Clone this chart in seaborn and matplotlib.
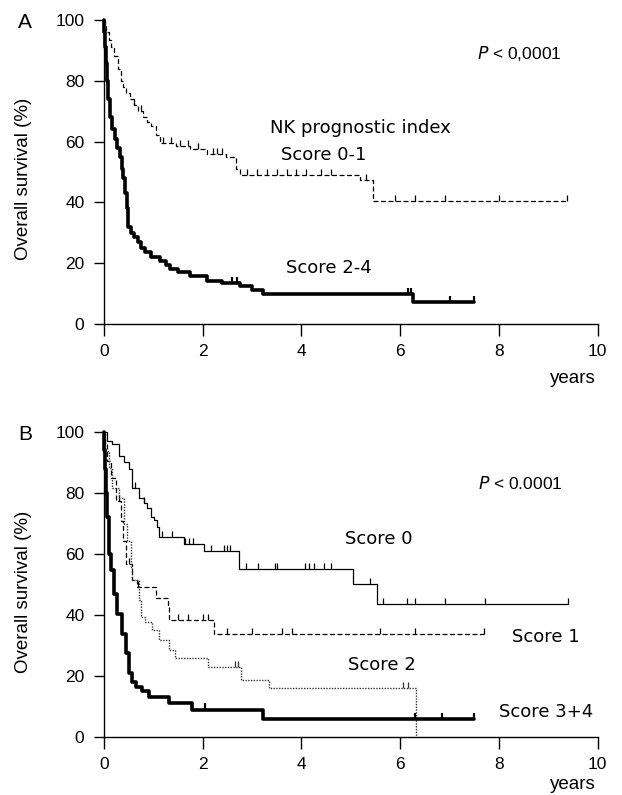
import numpy as np
import pandas as pd
import matplotlib
matplotlib.use("Agg")
import matplotlib.pyplot as plt
import seaborn as sns

# ---------------- data ----------------
years_ticks = [0, 2, 4, 6, 8, 10]
surv_ticks = [0, 20, 40, 60, 80, 100]

# Panel A
a_low_t = [0, 0.02, 0.05, 0.1, 0.15, 0.2, 0.28, 0.35, 0.39, 0.45, 0.52, 0.6, 0.7, 0.79,
           0.88, 0.96, 1.05, 1.13, 1.47, 1.74, 2.08, 2.48, 2.68, 2.75, 5.18, 5.45, 9.37]
a_low_s = [100, 98, 96, 93.5, 91, 88, 84, 80, 78, 76, 74, 72, 70, 68,
           66.5, 65, 62, 59.6, 58.5, 57.4, 56, 55, 51, 49, 47.5, 40.5, 40.5]
a_low_cens = [0.6, 0.75, 1.2, 1.35, 1.55, 1.7, 1.9, 2.2, 2.3, 2.4, 2.9, 3.1, 3.3,
              3.5, 3.7, 3.9, 4.1, 4.4, 4.6, 5.3, 5.9, 6.3, 6.9, 8.0, 9.37]

a_high_t = [0, 0.01, 0.02, 0.04, 0.06, 0.09, 0.12, 0.17, 0.22, 0.27, 0.32, 0.36, 0.39,
            0.43, 0.46, 0.49, 0.55, 0.62, 0.69, 0.76, 0.83, 0.95, 1.13, 1.25, 1.34,
            1.5, 1.74, 2.08, 2.4, 2.75, 3.0, 3.22, 6.26, 7.5]
a_high_s = [100, 96, 91, 86, 80, 74, 68, 64, 61, 58, 55, 51, 48,
            43, 38, 32, 30, 28.5, 27, 25, 23.6, 22, 20.8, 19.5, 18,
            17, 15.8, 14.2, 13.5, 12.6, 11.2, 9.8, 7.3, 7.3]
a_high_cens = [2.6, 2.7, 6.15, 6.22, 7.0, 7.5]

# Panel B
b0_t = [0, 0.07, 0.17, 0.3, 0.41, 0.51, 0.57, 0.71, 0.81, 0.88, 0.95, 1.01, 1.08,
        1.12, 1.62, 2.03, 2.74, 5.04, 5.54, 9.39]
b0_s = [100, 97, 96, 92, 90, 87.7, 81.7, 78.5, 76.8, 75.2, 72, 71, 68.7,
        65.4, 63.3, 61, 55, 50, 43.7, 43.7]
b0_cens = [0.64, 0.81, 1.18, 1.38, 1.65, 1.72, 1.8, 2.16, 2.43, 2.5, 2.56, 2.88, 3.12,
           3.46, 3.5, 4.07, 4.15, 4.25, 4.45, 4.6, 5.38, 5.66, 6.13, 6.3, 6.9, 7.72, 9.39]

b1_t = [0, 0.03, 0.07, 0.14, 0.24, 0.34, 0.38, 0.44, 0.57, 0.68, 1.05, 1.29, 1.32, 2.23, 7.7]
b1_s = [100, 96, 90.4, 85, 77.4, 70.9, 64.3, 56.7, 51.3, 49.1, 45.5, 43, 38.3, 33.7, 33.7]
b1_cens = [0.3, 0.5, 0.7, 1.5, 1.7, 2.0, 2.1, 2.5, 3.0, 3.6, 3.8, 5.6, 6.3, 7.7]

b2_t = [0, 0.03, 0.1, 0.17, 0.3, 0.41, 0.47, 0.54, 0.57, 0.71, 0.75, 0.84, 0.98,
        1.12, 1.32, 1.45, 2.1, 2.77, 3.34, 6.32]
b2_s = [100, 93.7, 88.3, 81.7, 78.5, 69.8, 64.3, 55.7, 51.3, 44.8, 39.3, 37.7, 35,
        31.7, 28.5, 25.8, 23, 18.7, 16, 0]
b2_cens = [2.65, 2.72, 6.05, 6.15]

b3_t = [0, 0.01, 0.03, 0.05, 0.07, 0.1, 0.14, 0.2, 0.27, 0.37, 0.44, 0.51, 0.57,
        0.65, 0.78, 0.91, 1.31, 1.79, 3.22, 7.5]
b3_s = [100, 94, 88, 80, 72, 60, 54.6, 47, 40.4, 33.9, 27.4, 21, 18,
        16.5, 15, 13, 11, 9, 6, 6]
b3_cens = [2.05, 6.3, 6.85, 7.5]

# ---------------- style ----------------
sns.set_style("ticks")
plt.rcParams["font.family"] = ["Liberation Sans", "DejaVu Sans"]
plt.rcParams["axes.linewidth"] = 1.0
plt.rcParams["text.color"] = "black"
plt.rcParams["axes.labelcolor"] = "black"
plt.rcParams["axes.edgecolor"] = "black"

fig = plt.figure(figsize=(6.22, 7.95), dpi=100)
axA = fig.add_axes([0.167, 0.5925, 0.794, 0.3824])
axB = fig.add_axes([0.167, 0.0730, 0.794, 0.3837])


def km(ax, t, s, cens, lw, ls, color):
    df = pd.DataFrame({"time": t, "surv": s})
    sns.lineplot(data=df, x="time", y="surv", ax=ax, drawstyle="steps-post",
                 linewidth=lw, linestyle=ls, color=color, estimator=None,
                 sort=False, clip_on=False)
    t_arr = np.asarray(t)
    s_arr = np.asarray(s)
    idx = np.searchsorted(t_arr, cens, side="right") - 1
    idx = np.clip(idx, 0, len(s_arr) - 1)
    ys = s_arr[idx] + 1.0
    sns.scatterplot(x=list(cens), y=list(ys), ax=ax, marker="|", s=22,
                    color=color, linewidth=max(lw * 0.6, 0.9), clip_on=False)


def style_axes(ax, years_y):
    ax.set_xlim(0, 10)
    ax.set_ylim(0, 100)
    ax.set_xticks(years_ticks)
    ax.set_yticks(surv_ticks)
    sns.despine(ax=ax)
    ax.tick_params(axis="x", length=8.5, width=1.0, pad=6, labelsize=12.5, colors="black")
    ax.tick_params(axis="y", length=7, width=1.0, pad=7, labelsize=12.5, colors="black")
    ax.set_ylabel("Overall survival (%)", fontsize=13.5)
    ax.yaxis.set_label_coords(-0.145, 0.477)
    ax.set_xlabel("years", fontsize=13.5, ha="right")
    ax.xaxis.set_label_coords(0.995, years_y)


# Panel A
km(axA, a_low_t, a_low_s, a_low_cens, 0.9, (0, (4, 2)), "black")
km(axA, a_high_t, a_high_s, a_high_cens, 2.6, "-", "black")
style_axes(axA, -0.152)
lab = dict(fontsize=13, family=["DejaVu Sans"], ha="center", va="center", color="black")
axA.text(5.2, 64.5, "NK prognostic index", **lab)
axA.text(4.45, 55.5, "Score 0-1", **lab)
axA.text(4.55, 18.4, "Score 2-4", **lab)
axA.text(7.55, 89, "$P$ < 0,0001", fontsize=12.5, ha="left", va="center")

# Panel B
km(axB, b0_t, b0_s, b0_cens, 0.9, "-", "black")
km(axB, b1_t, b1_s, b1_cens, 0.9, (0, (4, 2)), "black")
km(axB, b2_t, b2_s, b2_cens, 1.0, (0, (1, 1)), "#333333")
km(axB, b3_t, b3_s, b3_cens, 2.6, "-", "black")
style_axes(axB, -0.128)
axB.text(5.56, 65, "Score 0", **lab)
axB.text(8.95, 32.8, "Score 1", **lab)
axB.text(5.63, 23.6, "Score 2", **lab)
axB.text(8.95, 8.3, "Score 3+4", **lab)
axB.text(7.57, 83, "$P$ < 0.0001", fontsize=12.5, ha="left", va="center")

fig.text(25 / 622, 1 - 22 / 795, "A", fontsize=15, ha="center", va="center")
fig.text(25 / 622, 1 - 434 / 795, "B", fontsize=15, ha="center", va="center")

fig.savefig("out.png", dpi=100)
